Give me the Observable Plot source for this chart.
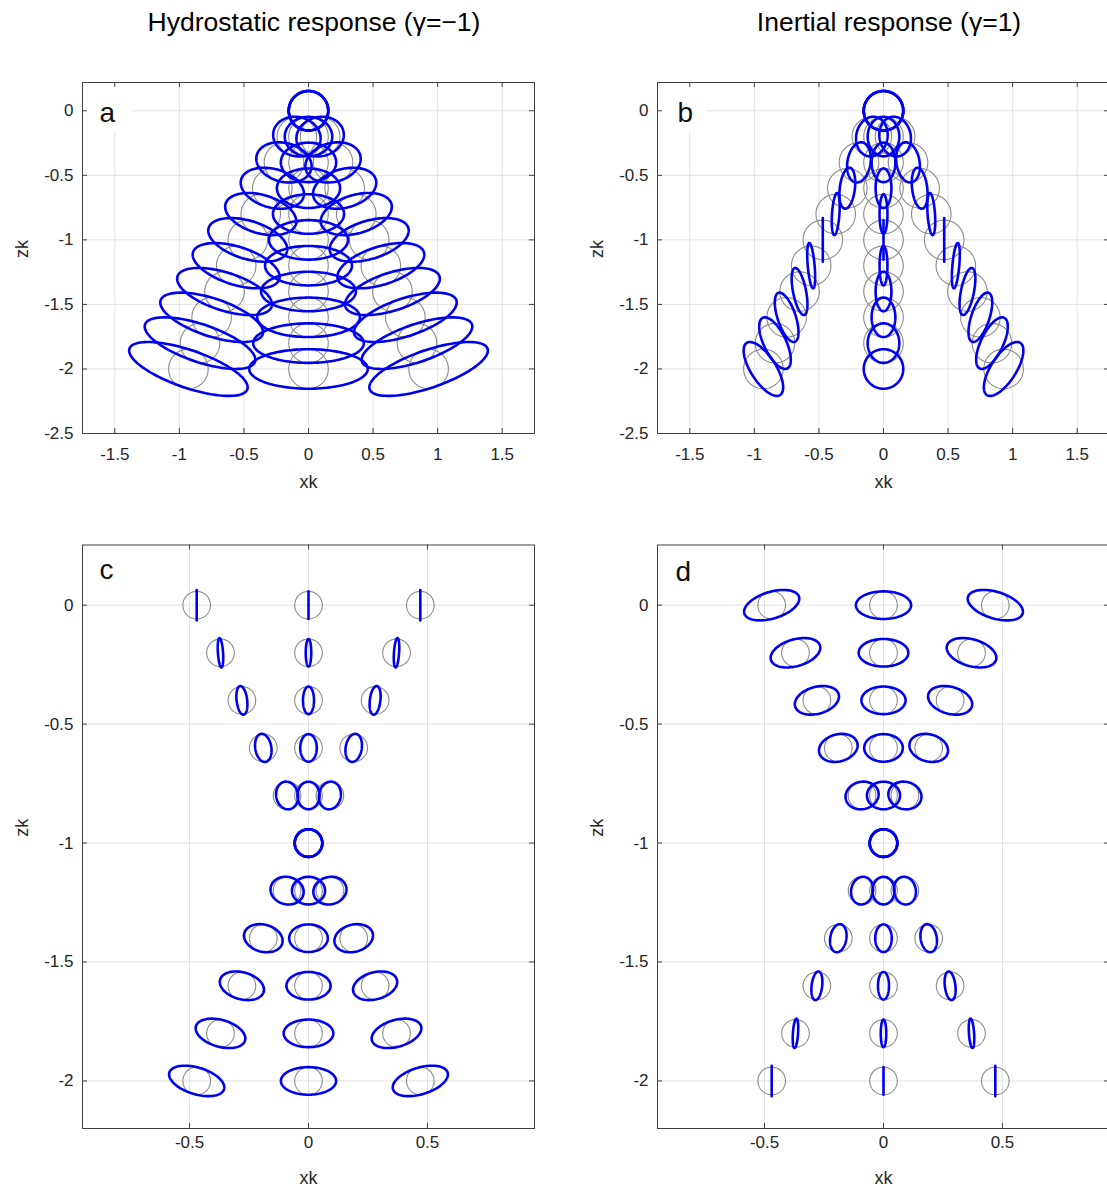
<!DOCTYPE html>
<html>
<head>
<meta charset="utf-8">
<script src="https://cdn.jsdelivr.net/npm/d3@7"></script>
<script src="https://cdn.jsdelivr.net/npm/@observablehq/plot@0.6"></script>
<style>
  html, body { margin: 0; padding: 0; background: #fff; overflow: hidden; }
  #page { position: relative; width: 1107px; height: 1189px; overflow: hidden;
          font-family: "Liberation Sans", Arial, Helvetica, sans-serif; }
  #page svg { max-width: none !important; display: block; }
  .title { position: absolute; top: 9px; font-size: 26.5px; line-height: 1; color: #000;
           white-space: nowrap; transform: translateX(-50%); }
  .panel { position: absolute; }
</style>
</head>
<body>
<div id="page"></div>
<script>
// Depth of each row of orbits (z k), shared by all four panels
const rowDepth = [0, -0.2, -0.4, -0.6, -0.8, -1, -1.2, -1.4, -1.6, -1.8, -2];

// Horizontal distance of the two slanted beams from the centre column
const offsetSurface = [0, 0.09, 0.19, 0.28, 0.37, 0.47, 0.56, 0.65, 0.75, 0.84, 0.93];   // a, b
const offsetFocus   = [0.47, 0.37, 0.28, 0.19, 0.09, 0, 0.09, 0.19, 0.28, 0.37, 0.47];   // c, d

// Radius of the unperturbed (grey) orbits
const radiusSurface = 0.153;
const radiusFocus = 0.058;

// In-phase displacement of each forced (blue) orbit, in orbit radii:
// horizontal (ux) and vertical (uz) parts. The quadrature part is the
// unchanged vertical motion. Side values are for the right-hand beam;
// the left-hand beam is its mirror image.
const aCentreUx = [1, 1.2, 1.4, 1.6, 1.8, 2, 2.2, 2.4, 2.6, 2.8, 3];
const aSideUx   = [1, 1.2, 1.4, 1.6, 1.8, 2, 2.2, 2.4, 2.6, 2.8, 3];
const aSideUz   = [0, 0.09, 0.19, 0.28, 0.37, 0.47, 0.56, 0.65, 0.75, 0.84, 0.93];

const bCentreUx = [1, 0.8, 0.6, 0.4, 0.2, 0, -0.2, -0.4, -0.6, -0.8, -1];
const bSideUx   = [1, 0.8, 0.6, 0.4, 0.2, 0, -0.2, -0.4, -0.6, -0.8, -1];
const bSideUz   = [0, -0.09, -0.19, -0.28, -0.37, -0.47, -0.56, -0.65, -0.75, -0.84, -0.93];

const cCentreUx = [0, 0.2, 0.4, 0.6, 0.8, 1, 1.2, 1.4, 1.6, 1.8, 2];
const cSideUx   = [0, 0.2, 0.4, 0.6, 0.8, 1, 1.2, 1.4, 1.6, 1.8, 2];
const cSideUz   = [0.47, 0.37, 0.28, 0.19, 0.09, 0, 0.09, 0.19, 0.28, 0.37, 0.47];

const dCentreUx = [2, 1.8, 1.6, 1.4, 1.2, 1, 0.8, 0.6, 0.4, 0.2, 0];
const dSideUx   = [2, 1.8, 1.6, 1.4, 1.2, 1, 0.8, 0.6, 0.4, 0.2, 0];
const dSideUz   = [-0.47, -0.37, -0.28, -0.19, -0.09, 0, -0.09, -0.19, -0.28, -0.37, -0.47];

// Axis ticks
const xTicksSurface = [-1.5, -1, -0.5, 0, 0.5, 1, 1.5];
const zTicksSurface = [0, -0.5, -1, -1.5, -2, -2.5];
const xTicksFocus = [-0.5, 0, 0.5];
const zTicksFocus = [0, -0.5, -1, -1.5, -2];

const titles = ["Hydrostatic response (\u03B3=\u22121)", "Inertial response (\u03B3=1)"];

const page = document.getElementById("page");
const ink = "#262626";
const phase = d3.range(0, 361, 3).map(d => d * Math.PI / 180);

// Trace the grey reference circles and the blue forced orbits of one panel
function orbitPaths(offsets, radius, centreUx, sideUx, sideUz) {
  const circles = [], forced = [];
  rowDepth.forEach((z0, i) => {
    const members = [
      {x0: 0, ux: centreUx[i], uz: 0},
      {x0: offsets[i], ux: sideUx[i], uz: sideUz[i]},
      {x0: -offsets[i], ux: sideUx[i], uz: -sideUz[i]}
    ];
    members.forEach((m, j) => {
      const id = i * 3 + j;
      for (const t of phase) {
        circles.push({id, x: m.x0 + radius * Math.cos(t), z: z0 + radius * Math.sin(t)});
        forced.push({id, x: m.x0 + radius * m.ux * Math.cos(t),
                     z: z0 + radius * (m.uz * Math.cos(t) + Math.sin(t))});
      }
    });
  });
  return {circles, forced};
}

function panel(cfg) {
  const {letter, left, top, frameW, frameH, mt, mb, xDomain, zDomain, xTicks, zTicks,
         offsets, radius, centreUx, sideUx, sideUz, letterDx, letterDy, tickPad, labelDy} = cfg;
  const ml = 82, mr = 26;
  const {circles, forced} = orbitPaths(offsets, radius, centreUx, sideUx, sideUz);
  const tick = {stroke: "#404040", strokeWidth: 1};
  const chart = Plot.plot({
    width: ml + frameW + mr,
    height: mt + frameH + mb,
    marginLeft: ml, marginRight: mr, marginTop: mt, marginBottom: mb,
    x: {domain: xDomain},
    y: {domain: zDomain},
    style: {fontFamily: "'Liberation Sans', Arial, Helvetica, sans-serif", fontSize: "17px", color: ink, background: "white"},
    marks: [
      Plot.ruleX(xTicks, {x: d => d, stroke: "#e2e2e2", strokeWidth: 1}),
      Plot.ruleY(zTicks, {y: d => d, stroke: "#e2e2e2", strokeWidth: 1}),
      Plot.dot([letter], {frameAnchor: "top-left", dx: 24, dy: 25, r: 28, symbol: "square", fill: "white", stroke: null}),
      Plot.text([letter], {text: d => d, frameAnchor: "top-left", dx: letterDx, dy: letterDy, fontSize: 28, fill: "#111"}),
      Plot.line(circles, {x: "x", y: "z", z: "id", stroke: "#8a8a8a", strokeWidth: 1.1, curve: "linear"}),
      Plot.line(forced, {x: "x", y: "z", z: "id", stroke: "#0000f0", strokeWidth: 2.6, curve: "linear"}),
      Plot.ruleX(xTicks, {x: d => d, y1: zDomain[0], y2: zDomain[0], insetBottom: 5, ...tick}),
      Plot.ruleX(xTicks, {x: d => d, y1: zDomain[1], y2: zDomain[1], insetTop: 5, ...tick}),
      Plot.ruleY(zTicks, {y: d => d, x1: xDomain[0], x2: xDomain[0], insetLeft: 5, ...tick}),
      Plot.ruleY(zTicks, {y: d => d, x1: xDomain[1], x2: xDomain[1], insetRight: 5, ...tick}),
      Plot.frame({stroke: "#404040", strokeWidth: 1}),
      Plot.axisX(xTicks, {anchor: "bottom", tickSize: 0, tickPadding: tickPad, tickFormat: d => String(d), label: null, fontSize: 17}),
      Plot.axisY(zTicks, {anchor: "left", tickSize: 0, tickPadding: 9, tickFormat: d => String(d), label: null, fontSize: 17}),
      Plot.text(["xk"], {text: d => d, frameAnchor: "bottom", dy: labelDy, fontSize: 18}),
      Plot.text(["zk"], {text: d => d, frameAnchor: "left", dx: -60, rotate: -90, fontSize: 18})
    ]
  });
  const holder = document.createElement("div");
  holder.className = "panel";
  holder.style.left = left + "px";
  holder.style.top = top + "px";
  holder.appendChild(chart);
  page.appendChild(holder);
}

const surface = {frameW: 452, frameH: 351, mt: 22, mb: 67, top: 60,
                 xDomain: [-1.75, 1.75], zDomain: [-2.5, 0.219],
                 xTicks: xTicksSurface, zTicks: zTicksSurface,
                 offsets: offsetSurface, radius: radiusSurface,
                 tickPad: 14, labelDy: 54};
const focus = {frameW: 452, frameH: 583.5, mt: 24.5, mb: 61, top: 520,
               xDomain: [-0.95, 0.95], zDomain: [-2.2, 0.253],
               xTicks: xTicksFocus, zTicks: zTicksFocus,
               offsets: offsetFocus, radius: radiusFocus,
               tickPad: 7, labelDy: 55};

panel({...surface, letter: "a", left: 0, letterDx: 17, letterDy: 20,
       centreUx: aCentreUx, sideUx: aSideUx, sideUz: aSideUz});
panel({...surface, letter: "b", left: 575, letterDx: 20, letterDy: 20,
       centreUx: bCentreUx, sideUx: bSideUx, sideUz: bSideUz});
panel({...focus, letter: "c", left: 0, letterDx: 17, letterDy: 14,
       centreUx: cCentreUx, sideUx: cSideUx, sideUz: cSideUz});
panel({...focus, letter: "d", left: 575, letterDx: 18, letterDy: 16,
       centreUx: dCentreUx, sideUx: dSideUx, sideUz: dSideUz});

// Column headings
[[titles[0], 314], [titles[1], 889]].forEach(([text, cx]) => {
  const el = document.createElement("div");
  el.className = "title";
  el.style.left = cx + "px";
  el.textContent = text;
  page.appendChild(el);
});
</script>
</body>
</html>
